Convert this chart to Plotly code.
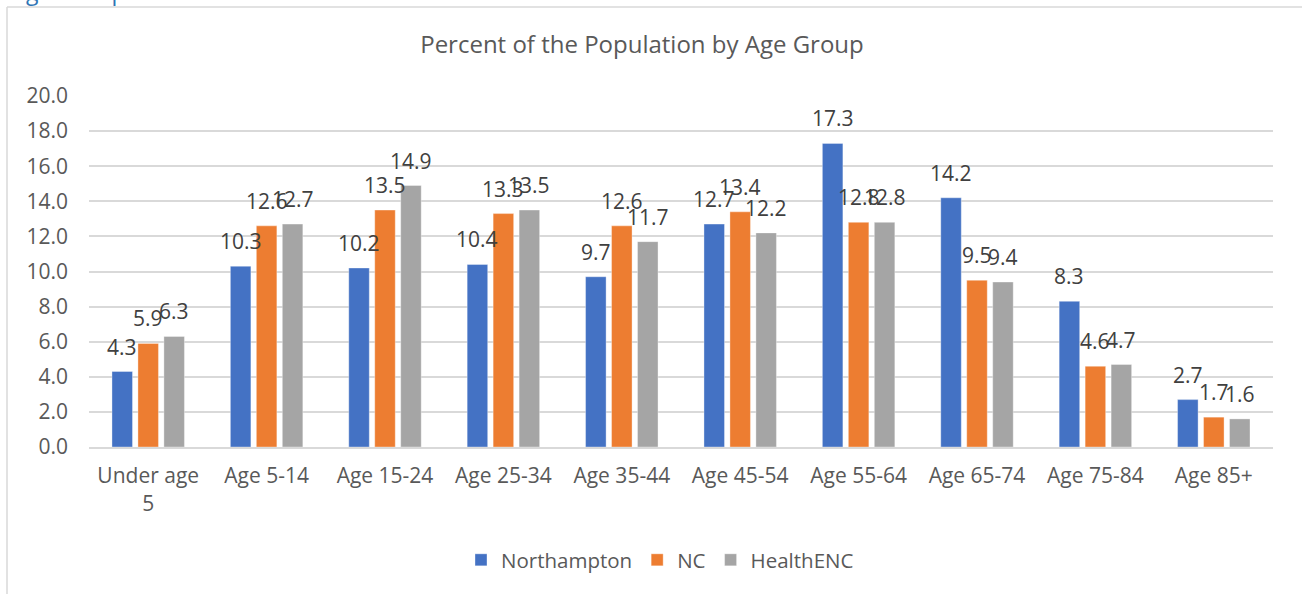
import plotly.graph_objects as go

categories = ["Under age<br>5", "Age 5-14", "Age 15-24", "Age 25-34", "Age 35-44",
              "Age 45-54", "Age 55-64", "Age 65-74", "Age 75-84", "Age 85+"]
northampton = [4.3, 10.3, 10.2, 10.4, 9.7, 12.7, 17.3, 14.2, 8.3, 2.7]
nc = [5.9, 12.6, 13.5, 13.3, 12.6, 13.4, 12.8, 9.5, 4.6, 1.7]
healthenc = [6.3, 12.7, 14.9, 13.5, 11.7, 12.2, 12.8, 9.4, 4.7, 1.6]
series_names = ["Northampton", "NC", "HealthENC"]
colors = ["#4472C4", "#ED7D31", "#A5A5A5"]
y_ticks = [0, 2, 4, 6, 8, 10, 12, 14, 16, 18, 20]

W, H = 1302, 594
ML, MR, MT, MB = 89, 29, 96, 147
PW = W - ML - MR
PH = H - MT - MB

FONT = "Open Sans"
TXT = "#595959"

bargap = 0.342
bargroupgap = 0.21

fig = go.Figure()
all_vals = [northampton, nc, healthenc]
for name, vals, col in zip(series_names, all_vals, colors):
    fig.add_trace(go.Bar(
        name=name, x=list(range(len(categories))), y=vals,
        marker=dict(color=col, line=dict(color="rgba(255,255,255,0.35)", width=1)),
    ))

# data labels above each bar
slot = (1 - bargap) / 3.0
ann = []
for k, vals in enumerate(all_vals):
    for i, v in enumerate(vals):
        ann.append(dict(
            x=i + (k - 1) * slot, y=v, xref="x", yref="y",
            text=f"{v:.1f}", showarrow=False, yanchor="middle", xanchor="center",
            yshift=25, font=dict(family=FONT, size=21, color="#404040"),
        ))

def px_to_paper_x(px):
    return (px - ML) / PW

def px_to_paper_y(py):
    return (H - MB - py) / PH

# clipped document heading at very top
ann.append(dict(
    x=px_to_paper_x(24), y=px_to_paper_y(-9), xref="paper", yref="paper",
    text="ge Groups", showarrow=False, xanchor="left", yanchor="middle",
    font=dict(family=FONT, size=23, color="#2E74B5"),
))

shapes = [
    dict(type="line", xref="paper", yref="paper",
         x0=px_to_paper_x(7), x1=px_to_paper_x(W + 5),
         y0=px_to_paper_y(7), y1=px_to_paper_y(7),
         line=dict(color="#D9D9D9", width=1.5)),
    dict(type="line", xref="paper", yref="paper",
         x0=px_to_paper_x(7), x1=px_to_paper_x(7),
         y0=px_to_paper_y(7), y1=px_to_paper_y(H + 5),
         line=dict(color="#D9D9D9", width=1.5)),
]

fig.update_layout(
    width=W, height=H,
    margin=dict(l=ML, r=MR, t=MT, b=MB, autoexpand=False),
    paper_bgcolor="white", plot_bgcolor="white",
    barmode="group", bargap=bargap, bargroupgap=bargroupgap,
    title=dict(text="Percent of the Population by Age Group", x=642 / W,
               xanchor="center", y=1 - 45 / H, yanchor="middle",
               font=dict(family=FONT, size=24, color=TXT)),
    font=dict(family=FONT, color=TXT),
    xaxis=dict(tickmode="array", tickvals=list(range(len(categories))), ticktext=categories,
               range=[-0.5, len(categories) - 0.5],
               showline=True, linecolor="#D9D9D9", linewidth=2,
               showgrid=False, ticks="", ticklabelstandoff=9,
               tickfont=dict(family=FONT, size=21, color=TXT)),
    yaxis=dict(range=[0, 20], tickvals=y_ticks, ticktext=[f"{t:.1f}" for t in y_ticks],
               showgrid=True, gridcolor="#D9D9D9", gridwidth=2, zeroline=False,
               ticks="", ticklen=0, ticklabelstandoff=20,
               tickfont=dict(family=FONT, size=21, color=TXT)),
    legend=dict(orientation="h", x=px_to_paper_x(660), xanchor="center", y=px_to_paper_y(560),
                yanchor="middle", font=dict(family=FONT, size=20.5, color=TXT),
                itemwidth=30, traceorder="normal"),
    annotations=ann, shapes=shapes,
)

fig.write_html("out.html", config={"displayModeBar": False},
               post_script="document.body.style.margin='0';document.body.style.overflow='hidden';")
